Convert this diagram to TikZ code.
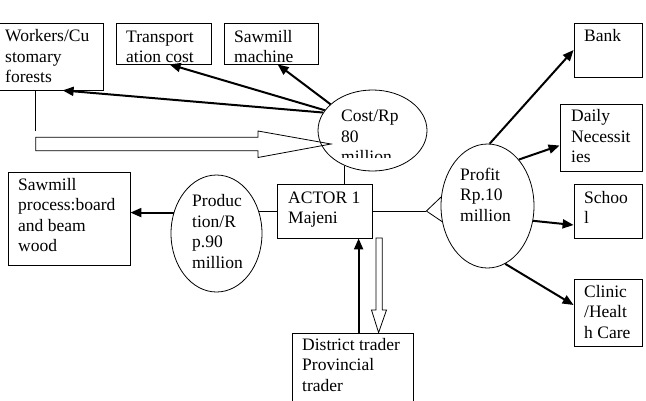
\documentclass[tikz,border=0pt]{standalone}
\usepackage{fontspec}
\setmainfont{Liberation Serif}
\usetikzlibrary{arrows.meta,shapes.geometric,calc}
\begin{document}
\begin{tikzpicture}[x=1pt,y=-1pt,
  box/.style={draw, line width=0.8pt, rectangle, inner sep=0pt},
  oval/.style={draw, line width=0.8pt, ellipse, inner sep=0pt},
  txt/.style={anchor=north west, inner sep=0pt, align=left, font=\fontsize{17.5}{20.5}\selectfont},
  thinline/.style={line width=0.8pt},
  arr/.style={line width=2pt, -{Triangle[length=11pt,width=9pt]}},
  hollow/.style={draw, line width=0.8pt, line join=miter}]
\useasboundingbox (0,0) rectangle (646,400);

% boxes
\node[box, minimum width=104pt, minimum height=67pt] (workers) at (51,56.5) {};
\node[box, minimum width=95pt, minimum height=41pt] (trans) at (163.5,43.5) {};
\node[box, minimum width=94pt, minimum height=41pt] (sawm) at (271,43.5) {};
\node[box, minimum width=68pt, minimum height=54pt] (bank) at (608,50) {};
\node[box, minimum width=82pt, minimum height=67pt] (daily) at (601,137.5) {};
\node[box, minimum width=68pt, minimum height=54pt] (school) at (608,211) {};
\node[box, minimum width=68pt, minimum height=67pt] (clinic) at (608,312.5) {};
\node[box, minimum width=95pt, minimum height=54pt] (actor) at (324.5,211) {};
\node[box, minimum width=121pt, minimum height=68pt] (district) at (352.5,367) {};
\node[box, minimum width=122pt, minimum height=93pt] (sproc) at (69,218.5) {};

% ellipses
\node[oval, minimum width=109pt, minimum height=81pt] (cost) at (372.5,130.5) {};
\node[oval, minimum width=91pt, minimum height=117pt] (prod) at (216.5,233.5) {};
\node[oval, minimum width=93pt, minimum height=124pt] (profit) at (487.5,206) {};

% texts
\node[txt] (tworkers) at (5,27.3) {\strut Workers/Cu\\stomary\\forests};
\node[txt] (ttrans) at (126,27.6) {\strut Transport\\ation cost};
\node[txt] (tsawm) at (234,27.6) {\strut Sawmill\\machine};
\begin{scope}
\clip (330,95) rectangle (425,157);
\node[txt] (tcost) at (341,107.3) {\strut Cost/Rp\\80\\million};
\end{scope}
\node[txt] (tbank) at (584,27.3) {\strut Bank};
\node[txt] (tdaily) at (571,107.3) {\strut Daily\\Necessit\\ies};
\node[txt] (tsproc) at (18,175.6) {\strut Sawmill\\process:board\\and beam\\wood};
\node[txt] (tprod) at (192,192.3) {\strut Produc\\tion/R\\p.90\\million};
\node[txt] (tactor) at (288,188.6) {\strut ACTOR 1\\Majeni};
\node[txt] (tprofit) at (460,165.6) {\strut Profit\\Rp.10\\million};
\node[txt] (tschool) at (584,188.6) {\strut Schoo\\l};
\node[txt] (tclinic) at (584,282.6) {\strut Clinic\\/Healt\\h Care};
\node[txt] (tdistrict) at (302,335.6) {\strut District trader\\Provincial\\trader};

% cost arrows
\draw[arr] (cost.160) -- ($(workers.south west)+(64,0)$);
\draw[arr] (cost.157) -- ($(trans.south west)+(54,0)$);
\draw[arr] (cost.148) -- ($(sawm.south west)+(54,0)$);

% workers line and hollow arrow to cost
\draw[thinline] ($(workers.south west)+(36.5,0)$) coordinate (wl) -- (wl |- 0,131);
\coordinate (htip) at ($(cost.center)+(-41.5,13.5)$);
\draw[hollow] (35.7,137.3) -- (258,137.3) -- (258,131) -- (htip) -- (258,157.5) -- (258,150.7) -- (35.7,150.7) -- cycle;

% cost to actor
\draw[thinline] (cost.232) -- (cost.232 |- actor.north);

% production
\draw[thinline] (actor.west |- prod.27) -- (prod.27);
\draw[arr] (prod.154) -- (prod.154 -| sproc.east);

% actor to profit
\draw[thinline] (actor.east) -- ++(54,0) coordinate (fork);
\draw[thinline] (fork) -- (profit.169);
\draw[thinline] (fork) -- (profit.199);

% profit arrows
\draw[arr] (profit.88) -- (bank.west);
\draw[arr] (profit.56) -- ($(daily.west)+(0,8)$);
\draw[arr] (profit.342) -- ($(school.west)+(0,14)$);
\draw[arr] (profit.287) -- ($(clinic.west)+(0,-7.5)$);

% district / actor
\draw[arr] ($(district.north west)+(67,0)$) -- ($(actor.south west)+(82,0)$);
\coordinate (dtip) at ($(district.north west)+(87,0)$);
\draw[hollow] (376,238) -- (382.3,238) -- (382.3,310) -- (386.5,310) -- (dtip) -- (371.5,310) -- (376,310) -- cycle;
\end{tikzpicture}
\end{document}
